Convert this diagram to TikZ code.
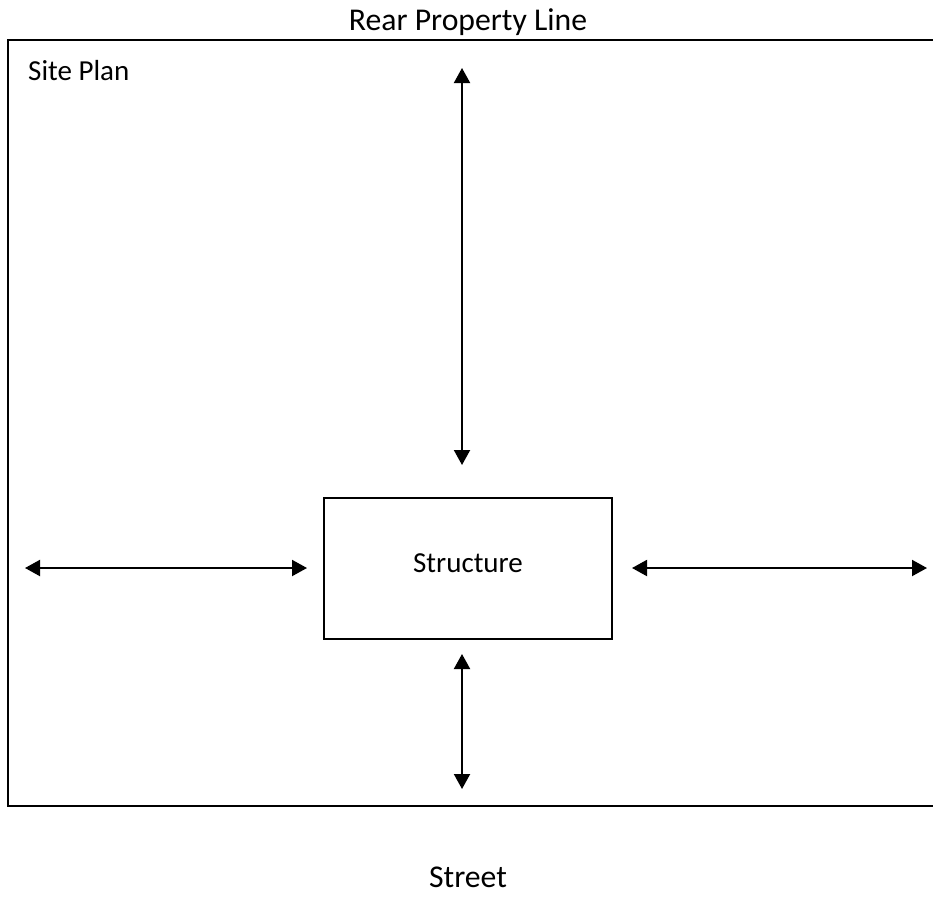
\documentclass[tikz,border=0pt]{standalone}
\usepackage{fontspec}
\setmainfont{Carlito}
\usetikzlibrary{arrows.meta}
\begin{document}
\begin{tikzpicture}[x=1pt,y=-1pt,
  lbl/.style={inner sep=0pt,font=\fontsize{29}{34}\selectfont},
  biglbl/.style={inner sep=0pt,font=\fontsize{31.7}{38}\selectfont},
  dimarrow/.style={line width=2pt,{Triangle[width=16pt,length=15pt]}-{Triangle[width=16pt,length=15pt]}},
  border/.style={line width=2pt}]
\useasboundingbox[fill=white] (0,0) rectangle (933,921);
% site boundary (open on the right)
\coordinate (tr) at (933,40);
\coordinate (tl) at (8,40);
\coordinate (bl) at (8,806);
\coordinate (br) at (933,806);
\draw[border] (tr) -- (tl) -- (bl) -- (br);
% labels
\node[biglbl,anchor=base] (rear) at (468,30.5) {Rear Property Line};
\node[lbl,anchor=base west] (site) at (28,80) {Site Plan};
\node[biglbl,anchor=base] (street) at (468,887) {Street};
% structure
\node[draw,line width=2pt,lbl,minimum width=288pt,minimum height=141pt,text height=18.5pt,text depth=11.5pt] (struct) at (468,568.5) {Structure};
% arrows
\coordinate (n1) at (462,68);
\coordinate (n2) at (462,465);
\coordinate (s1) at (462,654);
\coordinate (s2) at (462,789);
\coordinate (w1) at (25,568);
\coordinate (w2) at (307,568);
\coordinate (e1) at (632,568);
\coordinate (e2) at (927,568);
\draw[dimarrow] (n1) -- (n2);
\draw[dimarrow] (s1) -- (s2);
\draw[dimarrow] (w1) -- (w2);
\draw[dimarrow] (e1) -- (e2);
\end{tikzpicture}
\end{document}
